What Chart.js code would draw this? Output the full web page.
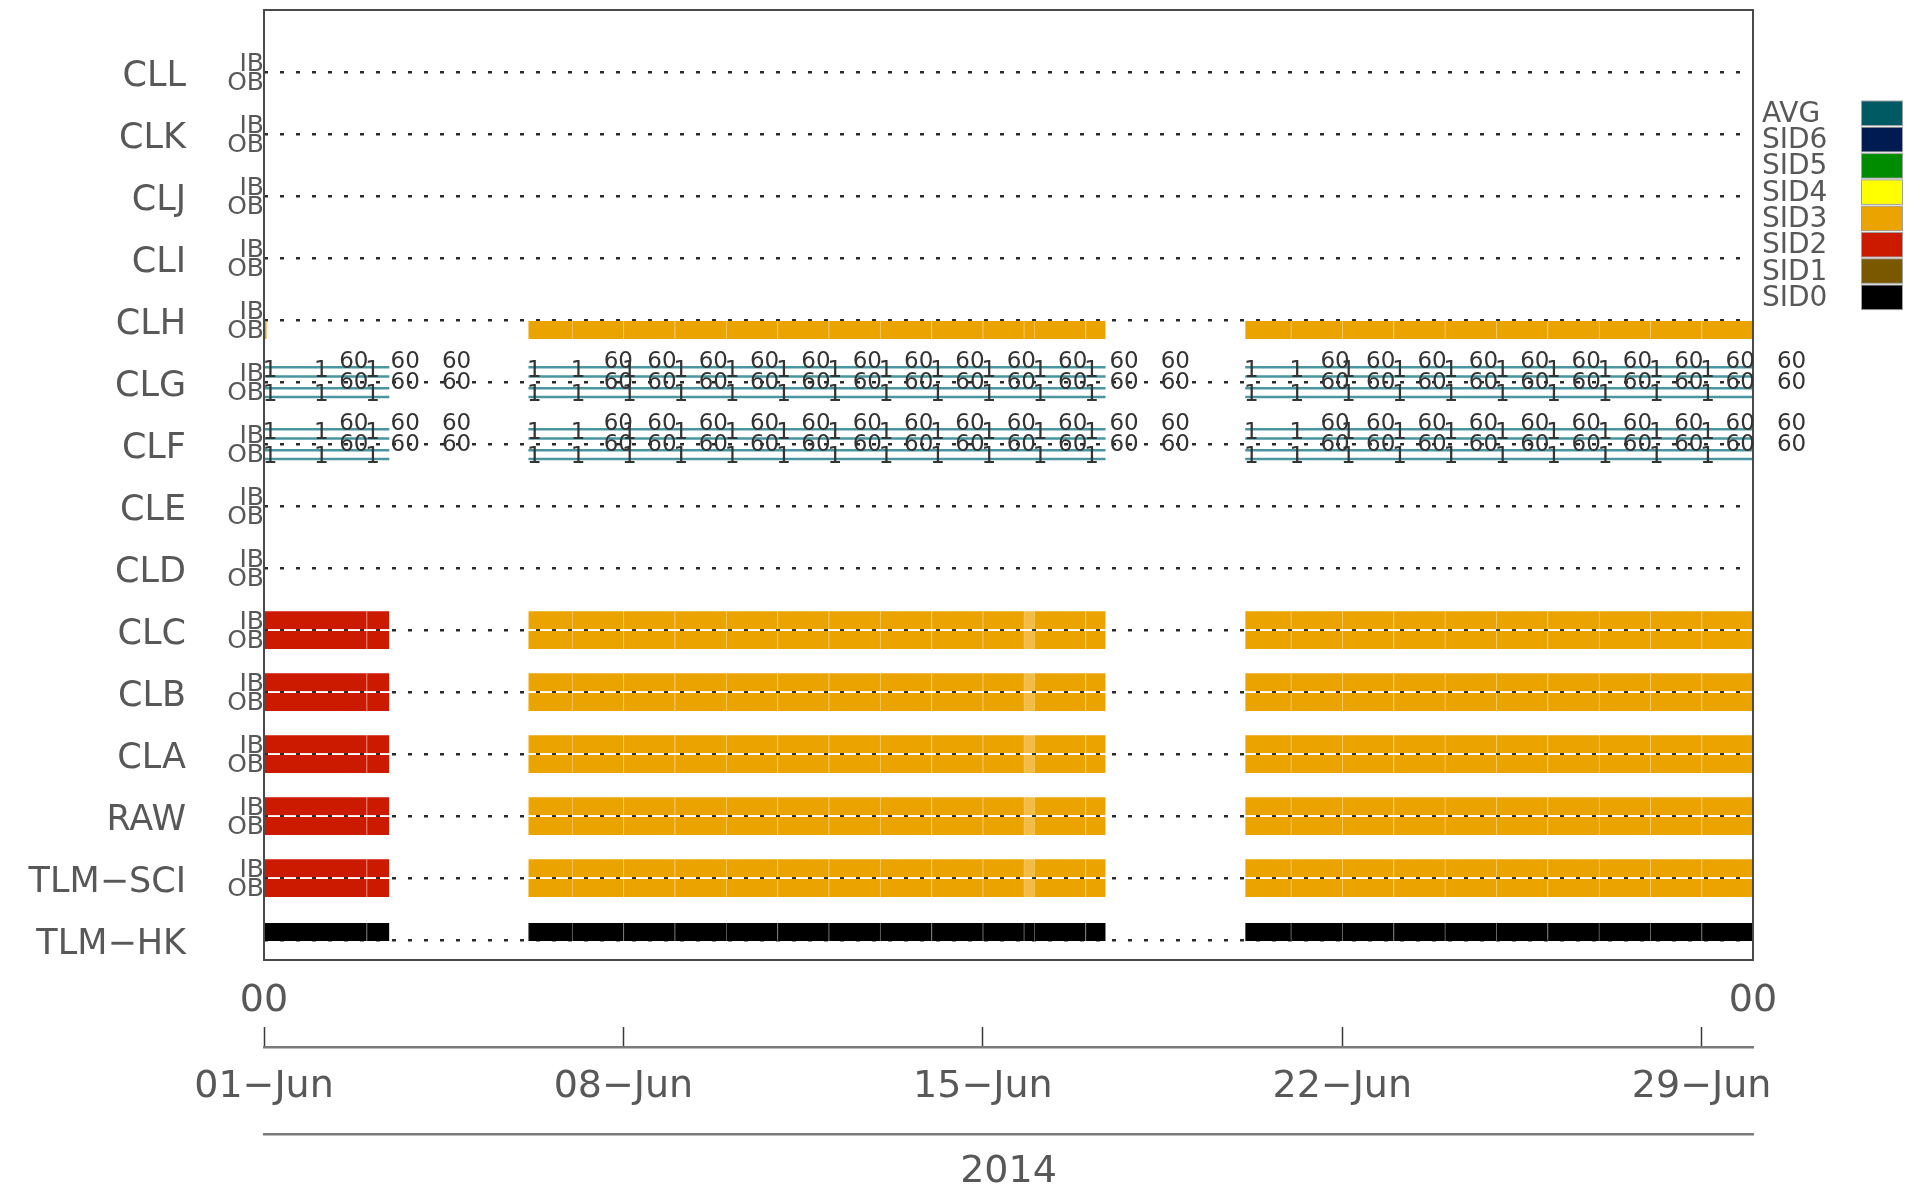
<!DOCTYPE html>
<html>
<head>
<meta charset="utf-8">
<title>Cluster file coverage, June 2014</title>
<script src="https://cdn.jsdelivr.net/npm/chart.js@4.4.1/dist/chart.umd.min.js"></script>
<style>
  html, body { margin: 0; padding: 0; background: #fff; }
</style>
</head>
<body>
<canvas id="coverage" width="1905" height="1190"></canvas>
<script>
// rows, bottom to top
const rowNames = ['TLM−HK', 'TLM−SCI', 'RAW', 'CLA', 'CLB', 'CLC', 'CLD', 'CLE', 'CLF', 'CLG', 'CLH', 'CLI', 'CLJ', 'CLK', 'CLL'];
const bandRows = rowNames.slice(1);            // rows split into IB / OB
const sciRows = ['TLM−SCI', 'RAW', 'CLA', 'CLB', 'CLC'];
const avgRows = ['CLF', 'CLG'];

// file spans in days since 01-Jun 00:00
const sid2Files = [[0, 2], [2, 2.44]];
const sid3Files = [[5.15, 6], [6, 7], [7, 8], [8, 9], [9, 10], [10, 11], [11, 12], [12, 13], [13, 14], [14, 14.8], [15, 16], [16, 16.39],
  [19.11, 20], [20, 21], [21, 22], [22, 23], [23, 24], [24, 25], [25, 26], [26, 27], [27, 28], [28, 29]];
const sid3Short = [[14.8, 15]];
const clhFiles = [[0, 0.05]].concat(sid3Files, sid3Short);
const hkFiles = sid2Files.concat(sid3Files, sid3Short);
const avgSpans = [[0, 2.44], [5.15, 16.39], [19.11, 29]];

// per-file annotations on the CLF / CLG rows
const fileMarks = [0, 1, 2, 5.15, 6, 7, 8, 9, 10, 11, 12, 13, 14, 15, 16, 19.11, 20, 21, 22, 23, 24, 25, 26, 27, 28];
const cadenceMarks = [1.75, 2.75, 3.75, 6.9, 7.75, 8.75, 9.75, 10.75, 11.75, 12.75, 13.75, 14.75, 15.75, 16.75, 17.75,
  20.86, 21.75, 22.75, 23.75, 24.75, 25.75, 26.75, 27.75, 28.75, 29.75];
const fileText = '1';
const cadenceText = '60';

// axis labels
const hourTicks = [0, 29];
const hourLabels = ['00', '00'];
const dayTicks = [0, 7, 14, 21, 28];
const dayLabels = ['01−Jun', '08−Jun', '15−Jun', '22−Jun', '29−Jun'];
const yearTicks = [14.5];
const yearLabels = ['2014'];

const legendNames = ['AVG', 'SID6', 'SID5', 'SID4', 'SID3', 'SID2', 'SID1', 'SID0'];

const sidColors = {
  AVG: '#005a64', SID6: '#001a52', SID5: '#008c00', SID4: '#ffff00',
  SID3: '#eba300', SID2: '#cc1a00', SID1: '#7a5800', SID0: '#000000'
};

const FONT = '"DejaVu Sans", sans-serif';
const TEXT = '#585858';
const IB = 0.16, OB = -0.16, HK = 0.13;

function rowIndex(name) { return rowNames.indexOf(name); }

function bars(rows, files, offsets) {
  const out = [];
  rows.forEach(name => {
    offsets.forEach(off => {
      files.forEach(f => out.push({ x: f, y: rowIndex(name) + off }));
    });
  });
  return out;
}

const laneLevels = [0.24, 0.09, -0.1, -0.24];
const avgPoints = [];
avgRows.forEach(name => {
  laneLevels.forEach(l => {
    avgSpans.forEach(([s, e]) => {
      const y = rowIndex(name) + l;
      avgPoints.push({ x: s, y }, { x: e, y }, { x: e, y: null });
    });
  });
});

const barBase = {
  type: 'bar', indexAxis: 'y', xAxisID: 'x', yAxisID: 'y',
  barThickness: 18, grouped: false, borderSkipped: false,
  borderWidth: { left: 1, right: 0, top: 0, bottom: 0 }
};

const frame = {
  id: 'frame',
  afterDatasetsDraw(chart) {
    const { ctx, chartArea: a } = chart;
    ctx.save();
    ctx.strokeStyle = '#4a4a4a';
    ctx.lineWidth = 2;
    ctx.strokeRect(a.left, a.top, a.right - a.left, a.bottom - a.top);
    ctx.restore();
  }
};

const markLabels = {
  id: 'markLabels',
  afterDatasetsDraw(chart) {
    const { ctx, scales: { x, y } } = chart;
    ctx.save();
    ctx.font = '23px ' + FONT;
    ctx.fillStyle = '#333';
    ctx.textAlign = 'center';
    ctx.textBaseline = 'middle';
    avgRows.forEach(name => {
      const py = y.getPixelForValue(rowIndex(name));
      fileMarks.forEach(d => {
        const px = x.getPixelForValue(d) + 6;
        ctx.fillText(fileText, px, py - 11);
        ctx.fillText(fileText, px, py + 13);
      });
      cadenceMarks.forEach(d => {
        const px = x.getPixelForValue(d);
        ctx.fillText(cadenceText, px, py - 20);
        ctx.fillText(cadenceText, px, py + 1);
      });
    });
    ctx.restore();
  }
};

const sidLegend = {
  id: 'sidLegend',
  afterDraw(chart) {
    const { ctx, chartArea } = chart;
    const tx = chartArea.right + 9;
    const bx = chart.width - 43;
    ctx.save();
    ctx.font = '28px ' + FONT;
    ctx.textAlign = 'left';
    ctx.textBaseline = 'middle';
    legendNames.forEach((name, i) => {
      const y0 = 101.5 + i * 26.3;
      ctx.fillStyle = '#a0a0a0';
      ctx.fillRect(bx - 1, y0 - 1, 42, 25.5);
      ctx.fillStyle = sidColors[name];
      ctx.fillRect(bx, y0, 40, 23.5);
      ctx.fillStyle = TEXT;
      ctx.fillText(name, tx, y0 + 13);
    });
    ctx.restore();
  }
};

function fixedTicks(values) {
  return scale => { scale.ticks = values.map(v => ({ value: v })); };
}

// pin an axis box to a fixed size and drop the label overhang padding
function pinSize(prop, size) {
  return s => {
    s[prop] = size;
    s.paddingTop = 0; s.paddingBottom = 0; s.paddingLeft = 0; s.paddingRight = 0;
  };
}

const noGrid = { display: false, drawTicks: false, offset: false };
const axisFont = { family: FONT, size: 38 };
const dayRange = { type: 'linear', position: 'bottom', min: 0, max: 29, offset: false };

new Chart(document.getElementById('coverage'), {
  type: 'bar',
  data: {
    datasets: [
      Object.assign({}, barBase, {
        label: 'SID2', data: bars(sciRows, sid2Files, [IB, OB]),
        backgroundColor: sidColors.SID2, borderColor: '#e2806f'
      }),
      Object.assign({}, barBase, {
        label: 'SID3', data: bars(sciRows, sid3Files, [IB, OB]).concat(bars(['CLH'], clhFiles, [OB])),
        backgroundColor: sidColors.SID3, borderColor: '#f4ca6c'
      }),
      Object.assign({}, barBase, {
        label: 'SID3 short', data: bars(sciRows, sid3Short, [IB, OB]),
        backgroundColor: '#f1bd45', borderColor: '#f4ca6c'
      }),
      Object.assign({}, barBase, {
        label: 'SID0', data: bars(['TLM−HK'], hkFiles, [HK]),
        backgroundColor: sidColors.SID0, borderColor: '#6a6a6a'
      }),
      {
        type: 'line', label: 'AVG', indexAxis: 'x', xAxisID: 'x', yAxisID: 'y',
        data: avgPoints, borderColor: '#4a96a0', borderWidth: 2.5,
        pointRadius: 0, spanGaps: false, tension: 0
      }
    ]
  },
  options: {
    indexAxis: 'y',
    responsive: false,
    animation: false,
    events: [],
    layout: { padding: { top: 10, right: 152, left: 0, bottom: 0 } },
    plugins: { legend: { display: false }, tooltip: { enabled: false } },
    scales: {
      x: Object.assign({}, dayRange, {
        weight: 0,
        afterBuildTicks: fixedTicks(hourTicks),
        afterFit: pinSize('height', 67),
        ticks: { callback: (v, i) => hourLabels[i], padding: 18, autoSkip: false, maxRotation: 0, minRotation: 0, font: axisFont, color: TEXT },
        grid: noGrid, border: { display: false }
      }),
      xTick: Object.assign({}, dayRange, {
        weight: 1,
        afterBuildTicks: fixedTicks(dayTicks),
        afterFit: pinSize('height', 20),
        ticks: { display: false },
        grid: { display: true, offset: false, drawOnChartArea: false, drawTicks: true, tickLength: 20, tickColor: '#3a3a3a', tickWidth: 1.5 },
        border: { display: false }
      }),
      xDay: Object.assign({}, dayRange, {
        weight: 2,
        afterBuildTicks: fixedTicks(dayTicks),
        afterFit: pinSize('height', 87),
        ticks: { callback: (v, i) => dayLabels[i], padding: 17, autoSkip: false, maxRotation: 0, minRotation: 0, font: axisFont, color: TEXT },
        grid: noGrid, border: { display: true, color: '#7a7a7a', width: 2.5 }
      }),
      xYear: Object.assign({}, dayRange, {
        weight: 3,
        afterBuildTicks: fixedTicks(yearTicks),
        afterFit: pinSize('height', 56),
        ticks: { callback: (v, i) => yearLabels[i], padding: 15, autoSkip: false, maxRotation: 0, minRotation: 0, font: axisFont, color: TEXT },
        grid: noGrid, border: { display: true, color: '#7a7a7a', width: 2.5 }
      }),
      yIO: {
        type: 'linear', position: 'left', weight: 0, min: -0.32, max: 15, offset: false,
        afterBuildTicks: scale => {
          const t = [];
          bandRows.forEach(name => {
            t.push({ value: rowIndex(name) - 0.18 }, { value: rowIndex(name) + 0.12 });
          });
          scale.ticks = t;
        },
        afterFit: pinSize('width', 36),
        ticks: {
          callback: v => (v - Math.round(v) > 0 ? 'IB' : 'OB'),
          padding: 0, autoSkip: false, font: { family: FONT, size: 25 }, color: TEXT
        },
        grid: noGrid, border: { display: false }
      },
      y: {
        type: 'linear', position: 'left', weight: 1, min: -0.32, max: 15, offset: false,
        afterBuildTicks: fixedTicks(rowNames.map((n, i) => i)),
        afterFit: pinSize('width', 228),
        ticks: { callback: (v, i) => rowNames[i], padding: 42, labelOffset: 5, autoSkip: false, font: { family: FONT, size: 35 }, color: TEXT },
        grid: { display: true, offset: false, drawTicks: false, color: '#2a2a2a', lineWidth: 2.5 },
        border: { display: false, dash: [4, 12] }
      }
    }
  },
  plugins: [frame, markLabels, sidLegend]
});
</script>
</body>
</html>
